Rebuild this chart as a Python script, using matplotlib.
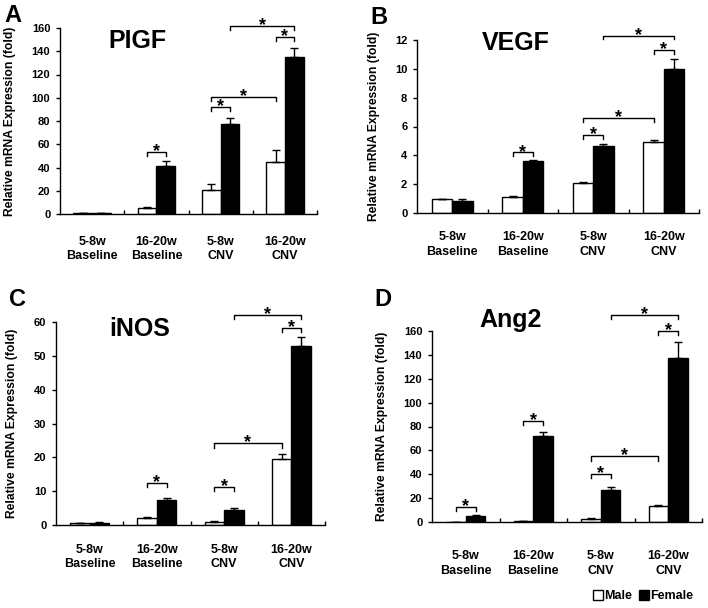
import numpy as np
import matplotlib
matplotlib.use("Agg")
import matplotlib.pyplot as plt
from matplotlib.lines import Line2D

plt.rcParams['font.family'] = ['Liberation Sans', 'DejaVu Sans']
plt.rcParams['font.weight'] = 'bold'

groups = ["5-8w\nBaseline", "16-20w\nBaseline", "5-8w\nCNV", "16-20w\nCNV"]

# PlGF
plgf_male = [0.5, 5, 21, 45]
plgf_male_err = [0.2, 1, 5, 10]
plgf_female = [0.5, 41, 77, 135]
plgf_female_err = [0.2, 5, 6, 8]

# VEGF
vegf_male = [0.95, 1.1, 2.1, 4.9]
vegf_male_err = [0.02, 0.07, 0.05, 0.15]
vegf_female = [0.85, 3.6, 4.65, 10.0]
vegf_female_err = [0.15, 0.05, 0.15, 0.7]

# iNOS
inos_male = [0.5, 2.2, 1.0, 19.5]
inos_male_err = [0.1, 0.2, 0.2, 1.5]
inos_female = [0.6, 7.5, 4.5, 53]
inos_female_err = [0.4, 0.4, 0.4, 2.5]

# Ang2
ang2_male = [0.3, 1.0, 2.5, 13]
ang2_male_err = [0.1, 0.2, 0.5, 1]
ang2_female = [5, 72, 27, 137]
ang2_female_err = [0.5, 3, 2.5, 14]

# brackets: (group, 0=male/1=female), (group, sex), height
plgf_sig = [((1, 0), (1, 1), 53), ((2, 0), (2, 1), 92), ((2, 0), (3, 0), 100.5),
            ((3, 0), (3, 1), 152), ((2, 1), (3, 1), 162)]
vegf_sig = [((1, 0), (1, 1), 4.2), ((2, 0), (2, 1), 5.4), ((2, 0), (3, 0), 6.6),
            ((3, 0), (3, 1), 11.3), ((2, 1), (3, 1), 12.3)]
inos_sig = [((1, 0), (1, 1), 12.5), ((2, 0), (2, 1), 11.3), ((2, 0), (3, 0), 24.2),
            ((3, 0), (3, 1), 58.3), ((2, 1), (3, 1), 62.2)]
ang2_sig = [((0, 0), (0, 1), 12.5), ((1, 0), (1, 1), 84.7), ((2, 0), (2, 1), 40),
            ((2, 0), (3, 0), 55), ((3, 0), (3, 1), 160.3), ((2, 1), (3, 1), 173.4)]

W, H = 708, 608

def box(l, r, t, b):
    return [l / W, 1 - b / H, (r - l) / W, (b - t) / H]

panels = [
    ("A", "PIGF", plgf_male, plgf_male_err, plgf_female, plgf_female_err, plgf_sig,
     160, 20, box(60, 317, 28, 214), (0.30, 0.93), (13, 15), 15.5),
    ("B", "VEGF", vegf_male, vegf_male_err, vegf_female, vegf_female_err, vegf_sig,
     12, 2, box(417, 699, 40, 213), (0.35, 0.98), (379, 17), 13),
    ("C", "iNOS", inos_male, inos_male_err, inos_female, inos_female_err, inos_sig,
     60, 10, box(56, 325, 322, 525), (0.31, 0.966), (17, 300), 13.5),
    ("D", "Ang2", ang2_male, ang2_male_err, ang2_female, ang2_female_err, ang2_sig,
     160, 20, box(432, 702, 331, 522), (0.29, 1.06), (383, 300), 20.5),
]

fig = plt.figure(figsize=(W / 100, H / 100), dpi=100)

w = 0.29
x = np.arange(len(groups))

for (letter, title, m, me, f, fe, sig, ytop, ystep, pos, tpos, lpos, xpad) in panels:
    ax = fig.add_axes(pos)
    ax.bar(x - w / 2, m, w, color="white", edgecolor="black", linewidth=1.0,
           yerr=[np.zeros(4), me], capsize=3, error_kw=dict(elinewidth=1, capthick=1))
    ax.bar(x + w / 2, f, w, color="black", edgecolor="black", linewidth=1.0,
           yerr=[np.zeros(4), fe], capsize=3, error_kw=dict(elinewidth=1, capthick=1))
    ax.set_xlim(-0.5, 3.5)
    ax.set_ylim(0, ytop)
    yt = np.arange(0, ytop + ystep / 2, ystep)
    ax.set_yticks(yt)
    ax.set_yticklabels([f"{v:g}" for v in yt])
    ax.set_xticks(x)
    ax.set_xticklabels(groups, fontsize=9, fontweight="bold", linespacing=1.3)
    ax.tick_params(axis="x", length=0, pad=xpad)
    ax.set_xticks([0.5, 1.5, 2.5, 3.5], minor=True)
    ax.tick_params(axis="x", which="minor", direction="in", length=3, width=1)
    ax.tick_params(axis="y", direction="out", length=3, width=1, labelsize=8, pad=4)
    for s in ("top", "right"):
        ax.spines[s].set_visible(False)
    for s in ("left", "bottom"):
        ax.spines[s].set_linewidth(1.0)
    ax.set_ylabel("Relative mRNA Expression (fold)", fontsize=8.7, fontweight="bold",
                  labelpad=11)
    ax.text(tpos[0], tpos[1], title, transform=ax.transAxes, fontsize=18,
            fontweight="bold", ha="center", va="center")
    drop = 0.022 * ytop
    for (g1, s1), (g2, s2), yb in sig:
        x1 = g1 + (w / 2 if s1 else -w / 2)
        x2 = g2 + (w / 2 if s2 else -w / 2)
        ax.plot([x1, x1, x2, x2], [yb - drop, yb, yb, yb - drop], color="black",
                lw=1.0, clip_on=False)
        ax.annotate("*", ((x1 + x2) / 2, yb), xytext=(0, -3),
                    textcoords="offset points", ha="center", va="baseline",
                    fontsize=13, fontweight="bold", annotation_clip=False)
    fig.text(lpos[0] / W, 1 - lpos[1] / H, letter, fontsize=17, fontweight="bold",
             ha="center", va="center")

handles = [
    Line2D([], [], marker="s", ls="", markerfacecolor="white", markeredgecolor="black",
           markersize=7),
    Line2D([], [], marker="s", ls="", markerfacecolor="black", markeredgecolor="black",
           markersize=7),
]
fig.legend(handles, ["Male", "Female"], loc="center", bbox_to_anchor=(643 / W, 1 - 596 / H),
           ncol=2, frameon=False, handletextpad=0.1, columnspacing=0.6,
           handlelength=0.8, prop={"weight": "bold", "size": 9})

fig.savefig("out.png", dpi=100)
